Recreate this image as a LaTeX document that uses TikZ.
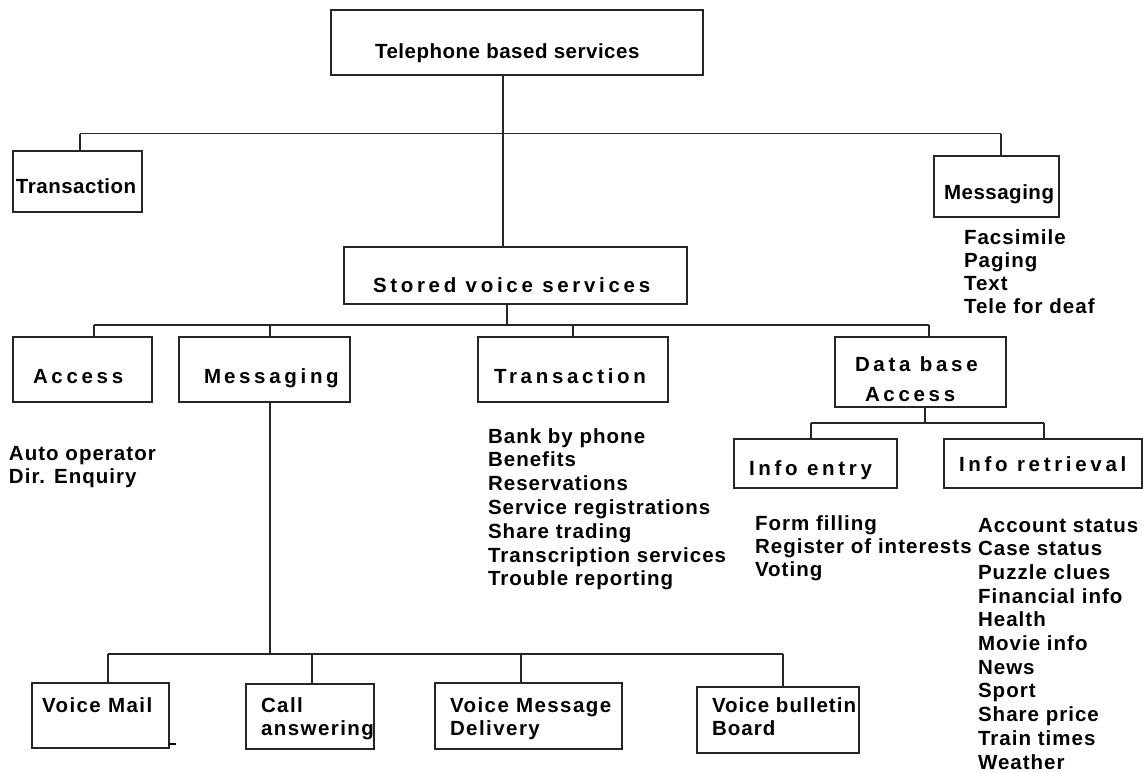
\documentclass[tikz,border=0pt]{standalone}
\usepackage{fontspec}
\setmainfont{Liberation Sans}
\definecolor{ink}{HTML}{262626}
\newcommand\spaced{\addfontfeature{LetterSpace=18}}
% rectangle given by its two corners (x1,y1) (x2,y2), y measured downwards
\newcommand\boxnode[5]{%
  \node[box, anchor=north west, minimum width={#4pt-#2pt}, minimum height={#5pt-#3pt}] (#1) at (#2,#3) {};}
% column of text lines: name prefix, left x, first baseline, line step, style, entries
\newcommand\entries[6]{%
  \foreach \t [count=\i from 0] in {#6} {\node[#5, anchor=base west] (#1\i) at (#2,{#3+#4*\i}) {\t};}}
\begin{document}
\begin{tikzpicture}[x=1pt, y=-1pt,
  box/.style={draw=ink, line width=1.8pt, inner sep=0pt, outer sep=0pt, fill=none},
  txt/.style={inner sep=0pt, outer sep=0pt, font=\fontsize{20.5}{23.7}\selectfont\bfseries\addfontfeature{LetterSpace=2.5}, text=black},
  item/.style={txt, font=\fontsize{20.5}{23.7}\selectfont\bfseries\addfontfeature{LetterSpace=5}},
  leaf/.style={txt, font=\fontsize{20.5}{23.7}\selectfont\bfseries\addfontfeature{LetterSpace=7}},
  wide/.style={txt, font=\fontsize{20.5}{23.7}\selectfont\bfseries\spaced},
  link/.style={draw=ink, line width=1.8pt},
  thinlink/.style={draw=ink, line width=1.2pt}]
\useasboundingbox[fill=white] (0,0) rectangle (1143,773);

% boxes
\boxnode{top}{331}{10}{703}{75}
\boxnode{trA}{13}{151}{142}{212}
\boxnode{msA}{934}{156}{1059}{217}
\boxnode{svs}{344}{247}{687}{304}
\boxnode{acc}{13}{337}{152}{402}
\boxnode{msB}{179}{337}{350}{402}
\boxnode{trB}{478}{337}{668}{402}
\boxnode{dba}{835}{337}{1006}{407}
\boxnode{ien}{734}{439}{897}{488}
\boxnode{iret}{944}{439}{1142}{488}
\boxnode{vm}{32}{683}{169}{748}
\boxnode{ca}{246}{684}{374}{749}
\boxnode{vmd}{435}{683}{622}{749}
\boxnode{vbb}{697}{687}{859}{753}

% box captions
\node[txt, anchor=base west] (topT) at (375,59) {Telephone based services};
\node[txt, anchor=base west] (trAT) at (16,193) {Transaction};
\node[txt, anchor=base west] (msAT) at (944,199) {Messaging};
\node[wide, anchor=base west] (svsT) at (373,292) {Stored voice services};
\node[wide, anchor=base west] (accT) at (33,383) {Access};
\node[wide, anchor=base west] (msBT) at (204,383) {M\kern3pt essaging};
\node[wide, anchor=base west] (trBT) at (494,383) {Transaction};
\node[wide, anchor=base west] (dbaT) at (855,371) {Data base};
\node[wide, anchor=base west] (dbaU) at (865,401) {Access};
\node[wide, anchor=base west] (ienT) at (749,475) {Info entry};
\node[wide, anchor=base west] (iretT) at (959,471) {Info retrieval};
\node[leaf, anchor=base west] (vmT) at (42,712) {Voice Mail};
\entries{caT}{261}{712}{23}{leaf}{Call,answering}
\entries{vmdT}{450}{712}{23}{leaf}{Voice Message,Delivery}
\entries{vbbT}{712}{712}{23}{item}{Voice bulletin,Board}

% item lists
\entries{fax}{964}{244}{23.3}{item}{Facsimile,Paging,Text,Tele for deaf}
\entries{aut}{9}{460}{23}{item}{Auto operator,Dir. Enquiry}
\entries{bank}{488}{443}{23.8}{item}{Bank by phone,Benefits,Reservations,Service registrations,Share trading,Transcription services,Trouble reporting}
\entries{form}{755}{530}{23}{item}{Form filling,Register of interests,Voting}
\entries{acct}{978}{532}{23.7}{item}{Account status,Case status,Puzzle clues,Financial info,Health,Movie info,News,Sport,Share price,Train times,Weather}

% first level
\coordinate (b1l) at (80,133.7);
\coordinate (b1m) at (503,133.7);
\coordinate (b1r) at (1001,133.7);
\draw[link] (b1m |- top.south) -- (b1m |- svs.north);
\draw[thinlink] (b1l) -- (b1r);
\draw[link] (b1l) -- (b1l |- trA.north);
\draw[link] (b1r) -- (b1r |- msA.north);

% stored voice services branches
\coordinate (b2l) at (94,325);
\coordinate (b2m) at (507,325);
\coordinate (b2r) at (929,325);
\draw[link] (b2m |- svs.south) -- (b2m);
\draw[link] (b2l) -- (b2r);
\draw[link] (b2l) -- (b2l |- acc.north);
\draw[link] (b2l -| 270,0) -- (270,0 |- msB.north);
\draw[link] (b2l -| 573,0) -- (573,0 |- trB.north);
\draw[link] (b2r) -- (b2r |- dba.north);

% data base access branches
\coordinate (b3l) at (811,423);
\coordinate (b3m) at (925,423);
\coordinate (b3r) at (1044,423);
\draw[link] (b3m |- dba.south) -- (b3m);
\draw[link] (b3l) -- (b3r);
\draw[link] (b3l) -- (b3l |- ien.north);
\draw[link] (b3r) -- (b3r |- iret.north);

% messaging branches
\coordinate (b4l) at (108,654);
\coordinate (b4m) at (270,654);
\coordinate (b4r) at (783,654);
\draw[link] (b4m |- msB.south) -- (b4m);
\draw[link] (b4l) -- (b4r);
\draw[link] (b4l) -- (b4l |- vm.north);
\draw[link] (b4l -| 312,0) -- (312,0 |- ca.north);
\draw[link] (b4l -| 521,0) -- (521,0 |- vmd.north);
\draw[link] (b4r) -- (b4r |- vbb.north);

% short stub at the corner of the voice mail box
\draw[draw=black, line width=2.4pt] ([yshift=4pt]vm.south east) -- ++(7,0);
\end{tikzpicture}
\end{document}
